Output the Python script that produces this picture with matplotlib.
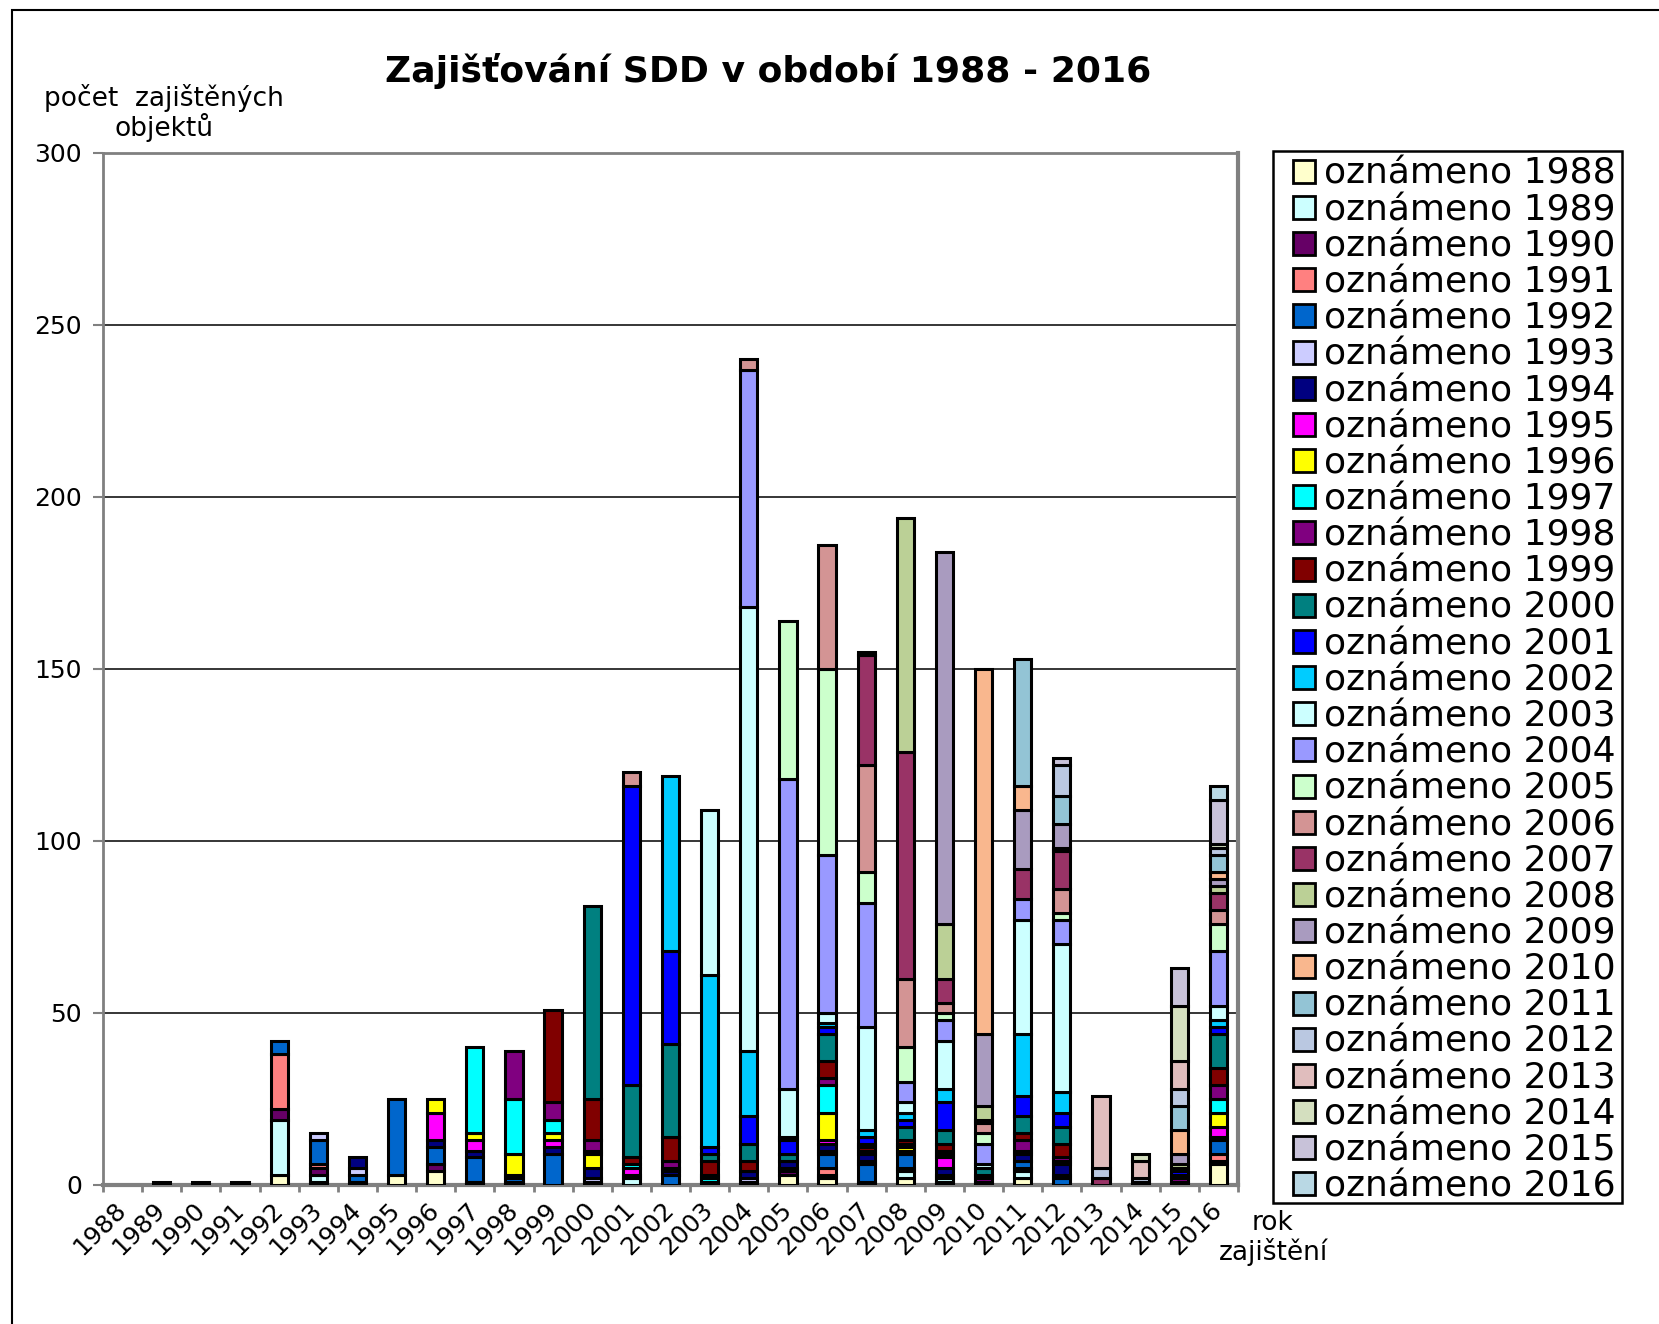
import numpy as np
import matplotlib
matplotlib.use("Agg")
import matplotlib.pyplot as plt
from matplotlib.patches import Rectangle

# rok zajištění (bar categories)
years = list(range(1988, 2017))
year_labels = [str(y) for y in years]

# počet zajištěných objektů podle roku oznámení, jedna řada na rok oznámení
oz1988 = [0, 0, 0, 0, 3, 1, 0, 3, 4, 0, 0, 0, 1, 0, 0, 0, 1, 3, 2, 1, 2, 1, 0, 2, 0, 0, 0, 0, 6]
oz1989 = [0, 1, 0, 0, 16, 2, 0, 0, 0, 0, 0, 0, 0, 2, 0, 0, 0, 0, 1, 0, 2, 1, 0, 2, 0, 0, 0, 0, 1]
oz1990 = [0, 0, 1, 0, 3, 2, 1, 0, 2, 1, 1, 0, 0, 0, 0, 0, 0, 1, 0, 0, 0, 0, 0, 1, 0, 0, 0, 0, 0]
oz1991 = [0, 0, 0, 1, 16, 1, 0, 0, 0, 0, 0, 0, 0, 0, 0, 0, 0, 1, 2, 0, 1, 0, 0, 0, 0, 0, 0, 0, 2]
oz1992 = [0, 0, 0, 0, 4, 7, 2, 22, 5, 7, 1, 9, 0, 1, 3, 1, 0, 0, 4, 5, 4, 1, 1, 2, 2, 0, 0, 0, 4]
oz1993 = [0, 0, 0, 0, 0, 2, 2, 0, 0, 0, 0, 0, 1, 0, 0, 0, 1, 0, 1, 1, 0, 0, 0, 0, 1, 0, 0, 0, 0]
oz1994 = [0, 0, 0, 0, 0, 0, 3, 0, 2, 2, 1, 2, 3, 0, 1, 0, 2, 2, 2, 2, 1, 2, 0, 2, 3, 0, 0, 1, 1]
oz1995 = [0, 0, 0, 0, 0, 0, 0, 0, 8, 3, 0, 2, 0, 2, 0, 0, 0, 0, 1, 0, 0, 3, 0, 0, 0, 0, 0, 0, 3]
oz1996 = [0, 0, 0, 0, 0, 0, 0, 0, 4, 2, 6, 2, 4, 0, 0, 0, 0, 0, 8, 1, 1, 1, 0, 0, 1, 0, 0, 0, 4]
oz1997 = [0, 0, 0, 0, 0, 0, 0, 0, 0, 25, 16, 4, 1, 1, 1, 1, 0, 0, 8, 0, 0, 0, 0, 1, 0, 0, 0, 0, 4]
oz1998 = [0, 0, 0, 0, 0, 0, 0, 0, 0, 0, 14, 5, 3, 0, 2, 1, 0, 0, 2, 0, 1, 1, 1, 3, 1, 0, 0, 1, 4]
oz1999 = [0, 0, 0, 0, 0, 0, 0, 0, 0, 0, 0, 27, 12, 2, 7, 4, 3, 0, 5, 1, 1, 2, 1, 2, 4, 0, 0, 0, 5]
oz2000 = [0, 0, 0, 0, 0, 0, 0, 0, 0, 0, 0, 0, 56, 21, 27, 2, 5, 2, 8, 1, 4, 4, 2, 5, 5, 0, 0, 1, 10]
oz2001 = [0, 0, 0, 0, 0, 0, 0, 0, 0, 0, 0, 0, 0, 87, 27, 2, 8, 4, 2, 2, 2, 8, 0, 6, 4, 0, 0, 1, 2]
oz2002 = [0] * 14 + [51, 50, 19, 1, 1, 2, 2, 4, 0, 18, 6, 0, 0, 0, 2]
oz2003 = [0] * 15 + [48, 129, 14, 3, 30, 3, 14, 1, 33, 43, 0, 0, 0, 4]
oz2004 = [0] * 16 + [69, 90, 46, 36, 6, 6, 6, 6, 7, 0, 0, 1, 16]
oz2005 = [0] * 17 + [46, 54, 9, 10, 2, 3, 0, 2, 0, 0, 0, 8]
oz2006 = [0] * 13 + [4, 0, 0, 3, 0, 36, 31, 20, 3, 3, 0, 7, 0, 0, 0, 4]
oz2007 = [0] * 19 + [32, 66, 7, 1, 9, 11, 2, 0, 0, 5]
oz2008 = [0] * 19 + [1, 68, 16, 4, 0, 1, 0, 1, 1, 2]
oz2009 = [0] * 21 + [108, 21, 17, 7, 0, 0, 3, 2]
oz2010 = [0] * 22 + [106, 7, 0, 0, 0, 7, 2]
oz2011 = [0] * 23 + [37, 8, 0, 0, 7, 5]
oz2012 = [0] * 24 + [9, 3, 1, 5, 2]
oz2013 = [0] * 25 + [21, 5, 8, 0]
oz2014 = [0] * 26 + [2, 16, 1]
oz2015 = [0] * 24 + [2, 0, 0, 11, 13]
oz2016 = [0] * 28 + [4]

series = [oz1988, oz1989, oz1990, oz1991, oz1992, oz1993, oz1994, oz1995,
          oz1996, oz1997, oz1998, oz1999, oz2000, oz2001, oz2002, oz2003,
          oz2004, oz2005, oz2006, oz2007, oz2008, oz2009, oz2010, oz2011,
          oz2012, oz2013, oz2014, oz2015, oz2016]
series_labels = ["oznámeno %d" % y for y in years]

colors = ["#FFFFCC", "#CCFFFF", "#660066", "#FF8080", "#0066CC", "#CCCCFF",
          "#000080", "#FF00FF", "#FFFF00", "#00FFFF", "#800080", "#800000",
          "#008080", "#0000FF", "#00CCFF", "#CCFFFF", "#9999FF", "#CCFFCC",
          "#D39494", "#993366", "#BBD096", "#A99BBF", "#F9B78E", "#93C4D5",
          "#BAC8E1", "#E0BDBD", "#D4DFBF", "#C8C2D9", "#B9D8E4"]

W, H = 1659, 1324
fig = plt.figure(figsize=(W / 100, H / 100), dpi=100, facecolor="w")
ax = fig.add_axes([103 / W, 1 - 1185 / H, (1238 - 103) / W, (1185 - 153) / H])

x = np.arange(len(years))
bottom = np.zeros(len(years))
for vals, col, lab in zip(series, colors, series_labels):
    v = np.array(vals, dtype=float)
    m = v > 0
    ax.bar(x[m], v[m], bottom=bottom[m], width=0.44, color=col,
           edgecolor="black", linewidth=2.2, label=lab, zorder=3)
    bottom += v

ax.set_xlim(-0.5, len(years) - 0.5)
ax.set_ylim(0, 300)
ax.set_yticks(np.arange(0, 301, 50))
ax.yaxis.grid(True, color="black", lw=1.1)
ax.set_axisbelow(True)

ax.set_xticks(x)
ax.set_xticklabels(year_labels, rotation=45, ha="right", va="center",
                   rotation_mode="anchor", fontsize=18)
ax.set_xticks(np.arange(-0.5, len(years)), minor=True)
ax.tick_params(axis="x", which="major", length=0, pad=15)
ax.tick_params(axis="x", which="minor", length=5, width=2, color="#808080")
ax.tick_params(axis="y", length=7, width=1.5, color="#808080",
               labelsize=18, pad=8)

for s in ("top", "right", "bottom", "left"):
    ax.spines[s].set_color("#808080")
ax.spines["left"].set_linewidth(2)
ax.spines["top"].set_linewidth(2)
ax.spines["bottom"].set_linewidth(3)
ax.spines["right"].set_linewidth(3)

fig.text(768 / W, 1 - 71 / H, "Zajišťování SDD v období 1988 - 2016",
         ha="center", va="center", fontsize=26, fontweight="bold")
fig.text(164 / W, 1 - 113 / H, "počet  zajištěných\nobjektů",
         ha="center", va="center", fontsize=19, multialignment="center",
         linespacing=1.05)
fig.text(1273 / W, 1 - 1238 / H, "rok\nzajištění",
         ha="center", va="center", fontsize=19, multialignment="center",
         linespacing=1.05)

# legend frame drawn separately so the entries can sit inset from it
fig.add_artist(Rectangle((1273 / W, 1 - 1203 / H), 349 / W, 1052 / H,
                         transform=fig.transFigure, facecolor="w",
                         edgecolor="black", lw=1.8, zorder=1))
leg = fig.legend(loc="upper left", bbox_to_anchor=(1293 / W, 1 - 157 / H),
                 frameon=False, fontsize=26, labelspacing=0.06,
                 handlelength=0.6, handleheight=0.6, handletextpad=0.25,
                 borderpad=0, borderaxespad=0)
leg.set_zorder(2)
for h in leg.legend_handles:
    h.set_linewidth(2)

# outer chart frame
fig.add_artist(Rectangle((12 / W, -0.05), 1.1, 1 - 10 / H + 0.05,
                         transform=fig.transFigure, fill=False,
                         edgecolor="black", lw=1.5))

fig.savefig("out.png", dpi=100, facecolor="w")
